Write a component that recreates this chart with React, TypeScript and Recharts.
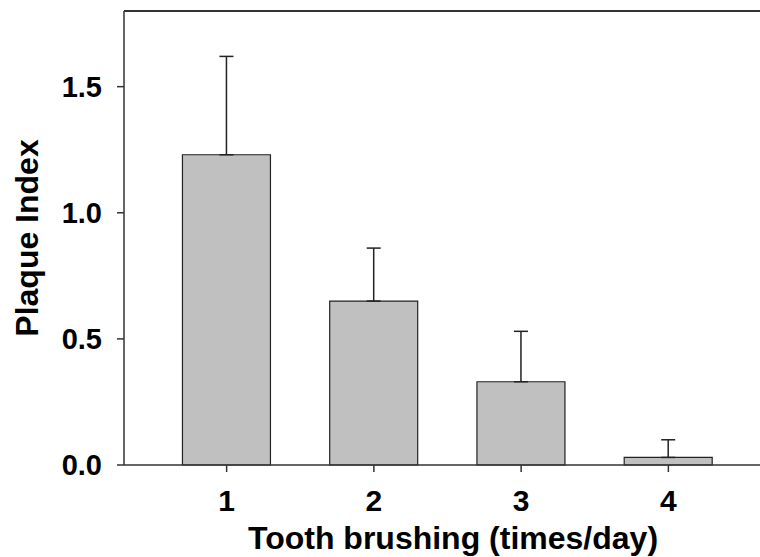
import React from "react";
import { BarChart, Bar, XAxis, YAxis, ErrorBar, ReferenceLine } from "recharts";

const brushing = ["1", "2", "3", "4"];
const plaqueMean = [1.23, 0.65, 0.33, 0.03];
const plaqueSD = [0.39, 0.21, 0.2, 0.07];
const yTicks = [0, 0.5, 1.0, 1.5];

const FONT = "'Liberation Sans', Arial, Helvetica, sans-serif";
const INK = "#333";

const data = brushing.map((b, i) => ({
  name: b,
  mean: plaqueMean[i],
  err: [0, plaqueSD[i]],
}));

function YTitle({ viewBox }: any) {
  const x = (viewBox?.x ?? 0) + 38;
  const y = (viewBox?.y ?? 0) + (viewBox?.height ?? 0) / 2;
  return (
    <text
      x={x}
      y={y}
      transform={`rotate(-90 ${x} ${y})`}
      textAnchor="middle"
      fontFamily={FONT}
      fontWeight="bold"
      fontSize={32}
      fill="#000"
    >
      Plaque Index
    </text>
  );
}

function XTitle({ viewBox }: any) {
  const x = (viewBox?.x ?? 0) + (viewBox?.width ?? 0) / 2 + 11;
  const y = (viewBox?.y ?? 0) + 84;
  return (
    <text x={x} y={y} textAnchor="middle" fontFamily={FONT} fontWeight="bold" fontSize={32} fill="#000">
      Tooth brushing (times/day)
    </text>
  );
}

export default function App() {
  return (
    <div style={{ position: "absolute", left: 0, top: 0, width: 760, height: 557, background: "#fff" }}>
      <BarChart
        width={760}
        height={557}
        data={data}
        margin={{ top: 11, right: 0, bottom: 0, left: 0 }}
        barCategoryGap="20%"
      >
        <XAxis
          dataKey="name"
          height={92}
          padding={{ left: 29, right: 18 }}
          axisLine={{ stroke: INK, strokeWidth: 1.5 }}
          tickLine={{ stroke: INK, strokeWidth: 1.5 }}
          tickSize={7}
          tickMargin={18}
          tick={{ fontFamily: FONT, fontWeight: "bold", fontSize: 30, fill: "#000" }}
          label={<XTitle />}
        />
        <YAxis
          width={124}
          domain={[0, 1.8]}
          ticks={yTicks}
          tickFormatter={(v: number) => v.toFixed(1)}
          axisLine={{ stroke: INK, strokeWidth: 1.5 }}
          tickLine={{ stroke: INK, strokeWidth: 1.5 }}
          tickSize={7}
          tickMargin={15}
          tick={{ fontFamily: FONT, fontWeight: "bold", fontSize: 29, fill: "#000" }}
          label={<YTitle />}
        />
        <ReferenceLine y={1.8} stroke={INK} strokeWidth={2} />
        <Bar dataKey="mean" fill="#c0c0c0" stroke="#222" strokeWidth={1.2} isAnimationActive={false}>
          <ErrorBar dataKey="err" direction="y" width={7} stroke="#222" strokeWidth={1.5} />
        </Bar>
      </BarChart>
    </div>
  );
}
